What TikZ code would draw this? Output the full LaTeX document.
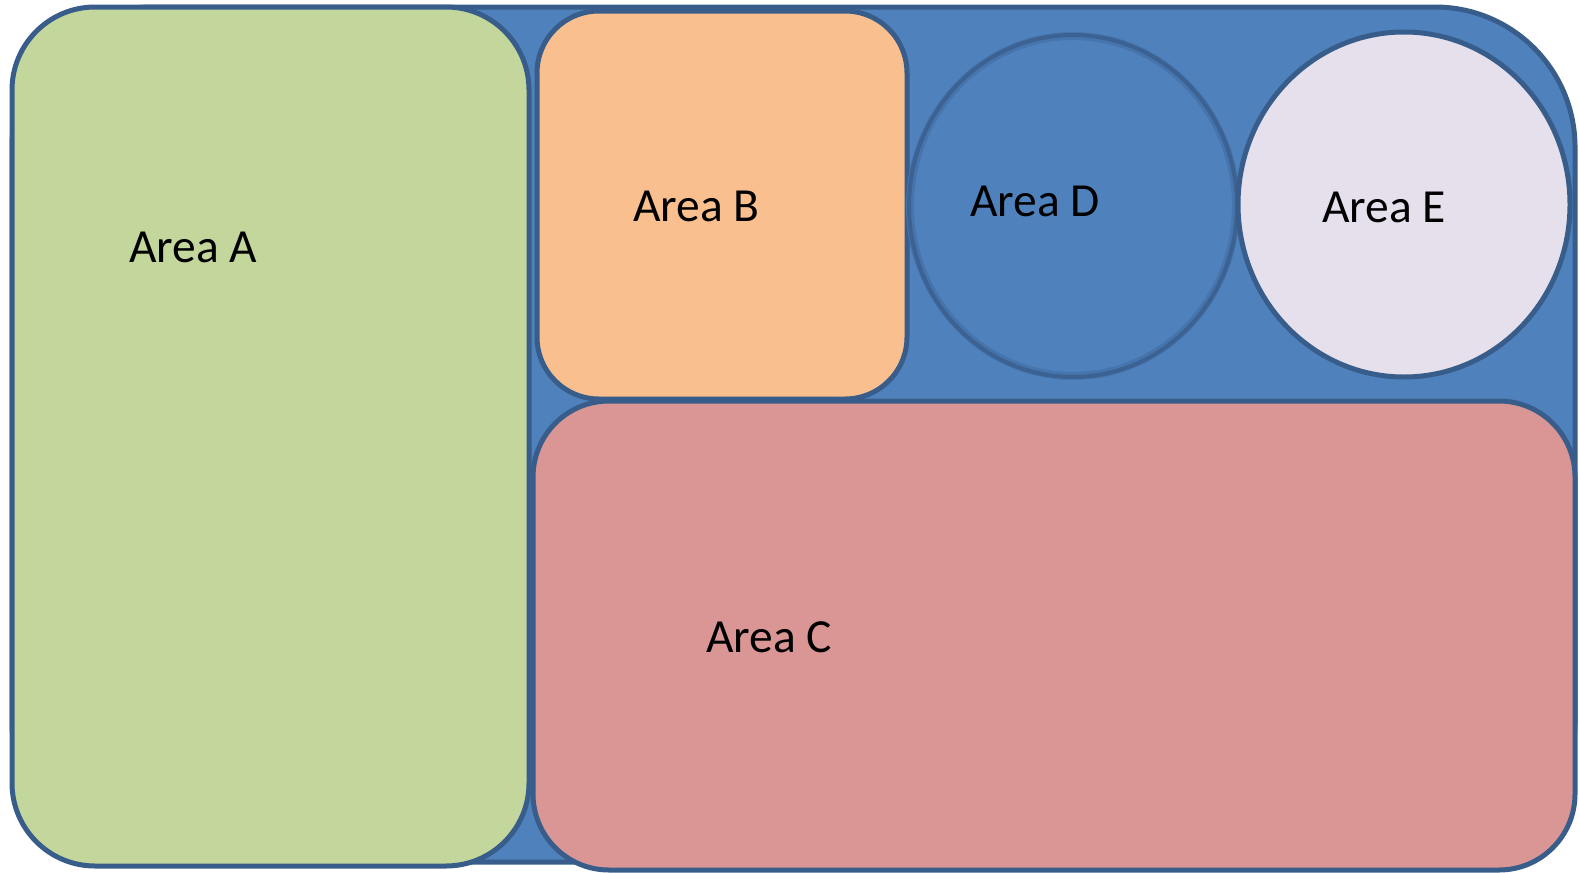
\documentclass[tikz,border=0pt]{standalone}
\usepackage{fontspec}
\setmainfont{Carlito}
\definecolor{frameblue}{HTML}{4F81BD}
\definecolor{edgeblue}{HTML}{385D8A}
\definecolor{glowblue}{HTML}{4674AC}
\definecolor{areagreen}{HTML}{C3D69B}
\definecolor{areaorange}{HTML}{F9BF8F}
\definecolor{areared}{HTML}{D99694}
\definecolor{arealilac}{HTML}{E5E0EC}
\begin{document}
\begin{tikzpicture}[x=1bp,y=-1bp,
  region/.style={draw=edgeblue,line width=5bp},
  label/.style={anchor=base west,inner sep=0pt,font=\fontsize{47.5bp}{57bp}\selectfont}]
\useasboundingbox (0,0) rectangle (1579,872);
% surrounding frame
\draw[region,fill=frameblue,rounded corners=140bp] (12,7) rectangle (1575,862);
% rectangular areas
\draw[region,fill=areagreen,rounded corners=83bp] (12,7) rectangle (529,866);
\draw[region,fill=areaorange,rounded corners=62bp] (537,11) rectangle (907,399);
\draw[region,fill=areared,rounded corners=76bp] (533,401) rectangle (1575,870);
% circular areas
\draw[fill=frameblue,draw=glowblue,line width=8bp] (1073,206) ellipse [x radius=163,y radius=170];
\draw[draw=edgeblue!85!frameblue,line width=4bp] (1073,206) ellipse [x radius=164,y radius=171];
\draw[region,fill=arealilac] (1404,204.5) ellipse [x radius=166,y radius=172.5];
% labels
\node[label] (la) at (129,262) {Area A};
\node[label] (lb) at (633,221) {Area B};
\node[label] (lc) at (706,652) {Area C};
\node[label] (ld) at (970,216) {Area D};
\node[label] (le) at (1322,222) {Area E};
\end{tikzpicture}
\end{document}
